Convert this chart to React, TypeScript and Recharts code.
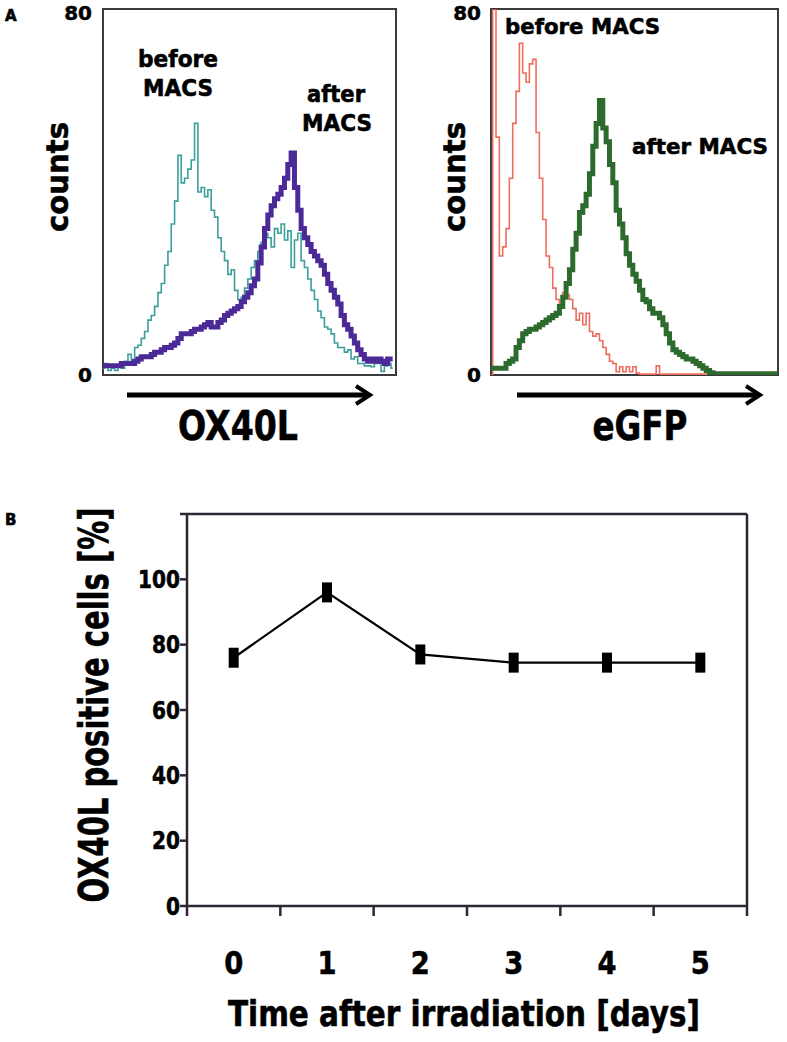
import { LineChart, Line, XAxis, YAxis, ReferenceArea, ReferenceLine } from 'recharts'

// Panel A histograms: counts per channel
const ox40lBefore = [
  1.5, 2.5, 1, 1.5, 1, 2, 1.5, 3, 4.5, 3,
  6, 6.5, 8, 9.5, 12, 13, 15, 18, 20, 24,
  27, 33, 38, 48, 42, 43, 45, 47, 55, 40,
  41, 39, 40.5, 36, 34.5, 30, 27, 25, 22, 23,
  18.5, 16.5, 17, 19, 21, 23.5, 25, 27, 29, 31,
  30, 28, 32, 31, 33, 29.5, 31.5, 23.5, 29.5, 31,
  25, 23.5, 21, 18.5, 16.5, 14, 12.5, 10.5, 10, 9,
  7, 6, 6, 5, 5.5, 3.5, 4, 2.5, 2.5, 2,
  2, 1.8, 2.5, 2.5, 0.8, 2, 2.5, 1.5,
]
const ox40lAfter = [
  2, 2, 2, 2, 2, 2, 2.5, 2.5, 2.5, 2.5,
  3, 3.5, 4, 4, 4, 4.5, 5, 5, 5.5, 6,
  6, 6.5, 7, 8, 9, 9, 9, 9.5, 10, 10,
  10.5, 11, 11.5, 10.5, 10.5, 11.5, 12, 13, 13.5, 14,
  14.5, 15, 16, 17, 18, 19.5, 21, 24.5, 28, 32,
  35, 37, 38.5, 39.5, 41, 43, 46, 48.5, 41, 36,
  32, 30, 28.5, 27, 26, 25, 24, 22, 20, 18.5,
  17, 15.5, 13, 11, 10, 8.5, 7, 5.5, 4.5, 3.5,
  3, 3.5, 3, 3.5, 3, 2.5, 3.5, 3.5,
]
const egfpBefore = [
  0,
  85, 52, 26, 28, 32, 43, 55, 62, 72.5, 66,
  64, 68, 69, 53, 43, 34, 26, 23.5, 19, 16.5,
  15, 18, 17.5, 16.5, 14.5, 12, 13.5, 11, 13.5, 9.5,
  8.5, 9, 7.5, 6, 4.5, 3, 2.5, 0.7, 1.8, 0.7,
  1.8, 0.7, 1.8, 0.4, 0.2, 0.2, 0.2, 0.2, 0.2, 2,
  0.2, 0.2, 0.2, 0.2, 0.2, 0.2, 0.2, 0.2, 0.2, 0.2,
  0.2, 0.2, 0.2, 0.2,
  0, 0, 0, 0, 0, 0, 0, 0, 0, 0,
  0, 0, 0, 0, 0, 0, 0, 0, 0, 0, 0, 0,
]
const egfpAfter = [
  1.5,
  1.5, 1.5, 1.5, 1.5, 2.5, 3, 3.5, 6, 7.5, 9,
  9.5, 10, 10, 10.5, 11, 11.5, 12, 12.5, 13, 13.5,
  15, 17, 20, 23, 27.5, 31, 35.5, 37, 39.5, 44,
  50, 55, 60, 54, 51, 46, 42, 36, 33, 30,
  26.5, 24, 22, 20.5, 18.5, 16.5, 16, 14.5, 13.5, 13.5,
  12.5, 11, 9, 7, 5.5, 5, 4.5, 4, 3.5, 3.5,
  3, 2.5, 2, 1.5, 1, 0.5,
  0.3, 0.3, 0.3, 0.3, 0.3, 0.3, 0.3, 0.3, 0.3, 0.3,
  0.3, 0.3, 0.3, 0.3, 0.3, 0.3, 0.3, 0.3, 0.3, 0.3,
]
const countTicks = [0, 80]

// Panel B
const days = [0, 1, 2, 3, 4, 5]
const ox40lPositive = [76, 96, 77, 74.5, 74.5, 74.5]
const pctTicks = [0, 20, 40, 60, 80, 100, 120]
const dayTicks = [-0.5, 0, 0.5, 1, 1.5, 2, 2.5, 3, 3.5, 4, 4.5, 5, 5.5]

const FONT = "'DejaVu Sans', Verdana, sans-serif"
const AX = '#2a2833'
// heavy bold look of the original lettering
const bold = { fontFamily: FONT, fontWeight: 'bold' as const, fill: '#000', stroke: '#000', strokeWidth: 0.6 }

function renderCountTick(props: any) {
  const { x, y, payload } = props
  // the top label sits a touch below the frame line
  const shift = payload.value === 80 ? 4 : 0
  return (
    <text x={x} y={y + shift} dy='0.36em' textAnchor='end' fontSize={20} {...bold} strokeWidth={0.5}>
      {payload.value}
    </text>
  )
}

function Histogram({ before, after, beforeColor, afterColor, left, yWidth, width, xMax, rightMargin, tickMargin }: any) {
  const data = before.map((v: number, i: number) => ({ ch: i, before: v, after: after[i] }))
  return (
    <div style={{ position: 'absolute', left, top: 0 }}>
      <LineChart width={width} height={400} data={data} margin={{ top: 9, right: rightMargin, bottom: 25, left: 0 }}>
        <XAxis type='number' dataKey='ch' domain={[0, xMax]} hide />
        <YAxis
          type='number'
          domain={[0, 80]}
          ticks={countTicks}
          interval={0}
          allowDataOverflow
          width={yWidth}
          axisLine={false}
          tickLine={false}
          tickSize={0}
          tickMargin={tickMargin}
          tick={renderCountTick}
        />
        <ReferenceArea x1={0} x2={xMax} y1={0} y2={80} fill='none' stroke='#3a3a3a' strokeWidth={2} />
        <Line type='step' dataKey='before' stroke={beforeColor} strokeWidth={1.6} dot={false} isAnimationActive={false} />
        <Line type='step' dataKey='after' stroke={afterColor} strokeWidth={5} dot={false} isAnimationActive={false} />
      </LineChart>
    </div>
  )
}

function renderDayTick(props: any) {
  const { x, y, payload } = props
  if (!Number.isInteger(payload.value)) {
    return <line x1={x} x2={x} y1={y - 10} y2={y} stroke={AX} strokeWidth={2.5} />
  }
  return (
    <text x={x} y={y + 58} textAnchor='middle' fontSize={32} textLength={19} lengthAdjust='spacingAndGlyphs' {...bold}>
      {payload.value}
    </text>
  )
}

function renderPctTick(props: any) {
  const { x, y, payload } = props
  if (payload.value === 120) return <g />
  const label = String(payload.value)
  return (
    <text x={x} y={y} dy='0.36em' textAnchor='end' fontSize={24} textLength={label.length * 14} lengthAdjust='spacingAndGlyphs' {...bold}>
      {label}
    </text>
  )
}

// x axis title, placed under the day labels (chart svg starts at page y 480)
function renderTimeTitle() {
  return (
    <text x={464} y={546} textAnchor='middle' fontSize={35} textLength={472} lengthAdjust='spacingAndGlyphs' {...bold}>
      Time after irradiation [days]
    </text>
  )
}

function renderMark(props: any) {
  const { cx, cy, index } = props
  return <rect key={index} x={cx - 5} y={cy - 10} width={10} height={20} fill='#000' />
}

function Arrow({ x1, x2, y }: { x1: number; x2: number; y: number }) {
  return (
    <g stroke='#000' fill='none'>
      <line x1={x1} x2={x2 - 2} y1={y} y2={y} strokeWidth={5} />
      <polyline points={`${x2 - 14},${y - 9} ${x2},${y} ${x2 - 14},${y + 9}`} strokeWidth={4} />
    </g>
  )
}

export default function App() {
  const timeData = days.map((d, i) => ({ day: d, pct: ox40lPositive[i] }))

  return (
    <div style={{ position: 'absolute', left: 0, top: 0, width: 787, height: 1042, background: '#fff' }}>
      <Histogram
        before={ox40lBefore}
        after={ox40lAfter}
        beforeColor='#3b9f9c'
        afterColor='#4b2996'
        left={0}
        yWidth={103}
        width={400}
        xMax={88}
        rightMargin={4}
        tickMargin={11}
      />
      <Histogram
        before={egfpBefore}
        after={egfpAfter}
        beforeColor='#ee6e5e'
        afterColor='#2d6a2d'
        left={400}
        yWidth={91}
        width={387}
        xMax={86}
        rightMargin={9}
        tickMargin={10}
      />

      <div style={{ position: 'absolute', left: 0, top: 480 }}>
        <LineChart width={787} height={562} data={timeData} margin={{ top: 34, right: 40, bottom: 96, left: 127 }}>
          <XAxis
            type='number'
            dataKey='day'
            domain={[-0.5, 5.5]}
            ticks={dayTicks}
            interval={0}
            height={40}
            tickLine={false}
            tickSize={10}
            tickMargin={0}
            axisLine={{ stroke: AX, strokeWidth: 2.5 }}
            tick={renderDayTick}
            label={{ content: renderTimeTitle }}
          />
          <YAxis
            type='number'
            domain={[0, 120]}
            ticks={pctTicks}
            interval={0}
            width={60}
            tickSize={7}
            tickMargin={0}
            axisLine={{ stroke: AX, strokeWidth: 2.5 }}
            tickLine={{ stroke: AX, strokeWidth: 2.5 }}
            tick={renderPctTick}
          />
          <ReferenceLine y={120} stroke={AX} strokeWidth={2.5} />
          <ReferenceLine x={5.5} stroke={AX} strokeWidth={2.5} />
          <Line type='linear' dataKey='pct' stroke='#000' strokeWidth={2.2} dot={renderMark} isAnimationActive={false} />
        </LineChart>
      </div>

      <svg width={787} height={1042} style={{ position: 'absolute', left: 0, top: 0, pointerEvents: 'none' }}>
        <text x={5} y={21} fontSize={15} {...bold}>A</text>
        <text x={5} y={525} fontSize={15} {...bold}>B</text>

        <text transform='translate(68,177) rotate(-90)' textAnchor='middle' fontSize={30} textLength={110} lengthAdjust='spacingAndGlyphs' {...bold}>counts</text>
        <text transform='translate(465,177) rotate(-90)' textAnchor='middle' fontSize={30} textLength={110} lengthAdjust='spacingAndGlyphs' {...bold}>counts</text>

        <text x={178} y={67} textAnchor='middle' fontSize={23} textLength={80} lengthAdjust='spacingAndGlyphs' {...bold}>before</text>
        <text x={178} y={96} textAnchor='middle' fontSize={23} textLength={70} lengthAdjust='spacingAndGlyphs' {...bold}>MACS</text>
        <text x={336} y={102} textAnchor='middle' fontSize={23} textLength={58} lengthAdjust='spacingAndGlyphs' {...bold}>after</text>
        <text x={337} y={131} textAnchor='middle' fontSize={23} textLength={70} lengthAdjust='spacingAndGlyphs' {...bold}>MACS</text>
        <text x={505} y={34} fontSize={22} textLength={155} lengthAdjust='spacingAndGlyphs' {...bold}>before MACS</text>
        <text x={632} y={154} fontSize={22} textLength={136} lengthAdjust='spacingAndGlyphs' {...bold}>after MACS</text>

        <Arrow x1={127} x2={370} y={395} />
        <Arrow x1={517} x2={760} y={395} />
        <text x={238} y={440} textAnchor='middle' fontSize={40} textLength={120} lengthAdjust='spacingAndGlyphs' {...bold}>OX40L</text>
        <text x={640} y={440} textAnchor='middle' fontSize={40} textLength={95} lengthAdjust='spacingAndGlyphs' {...bold}>eGFP</text>

        <text transform='translate(108,705) rotate(-90)' textAnchor='middle' fontSize={40} textLength={395} lengthAdjust='spacingAndGlyphs' {...bold}>
          OX40L positive cells [%]
        </text>
      </svg>
    </div>
  )
}
